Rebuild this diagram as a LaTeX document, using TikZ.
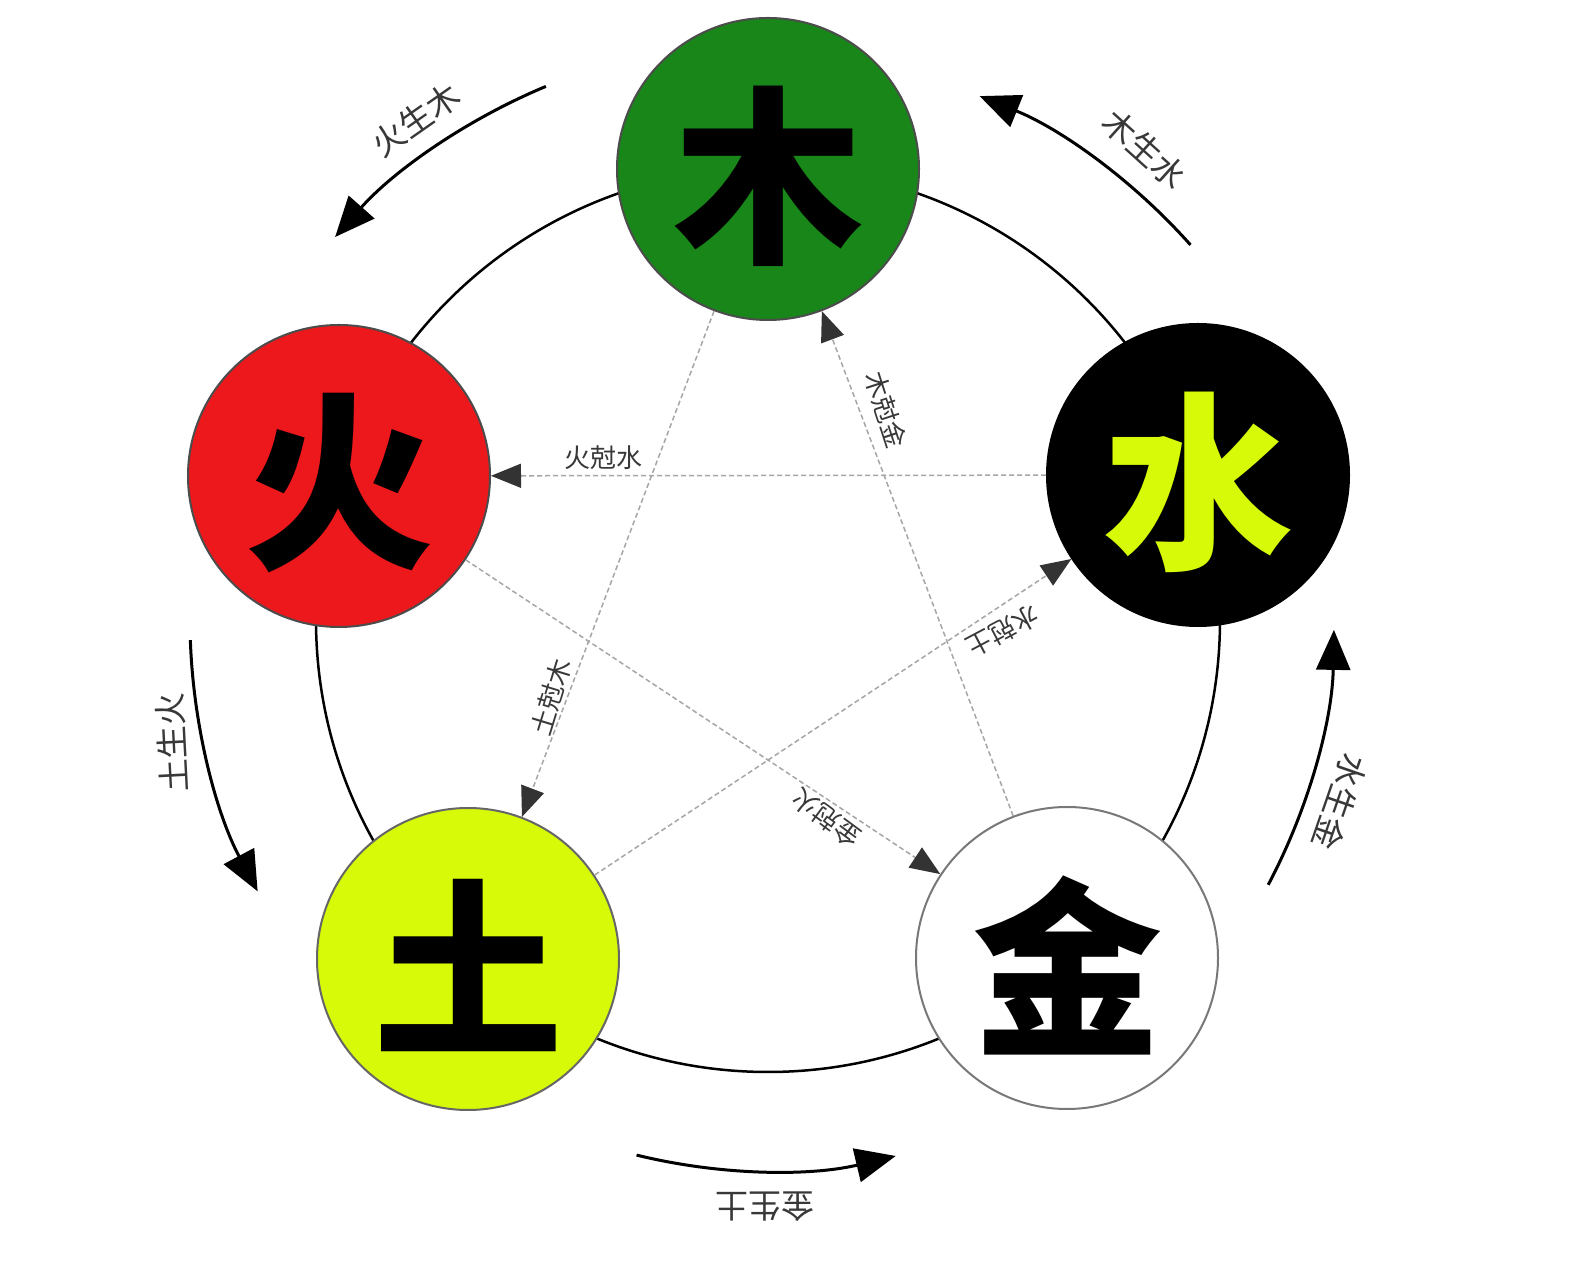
\documentclass[tikz,border=0pt]{standalone}
\usepackage{fontspec}
\newfontfamily\cjk{Noto Sans CJK SC}
\usetikzlibrary{arrows.meta,calc}
\definecolor{wood}{RGB}{24,134,24}
\definecolor{fire}{RGB}{236,24,28}
\definecolor{earth}{RGB}{214,250,8}
\definecolor{metalline}{RGB}{120,120,120}
\tikzset{
  elem/.style={circle, minimum size=302pt, inner sep=0pt, line width=2pt,
    font=\cjk\bfseries\fontsize{190}{190}\selectfont},
  elemtext/.style={font=\cjk\bfseries\fontsize{190}{190}\selectfont, inner sep=0pt},
  sheng/.style={line width=3pt, -{Triangle[length=40pt,width=34pt]}},
  ke/.style={line width=1.5pt, draw=black!35, dash pattern=on 5pt off 3pt,
    -{Triangle[length=30pt,width=24pt,color=black!80]}},
  olabel/.style={font=\cjk\fontsize{33}{33}\selectfont, text=black!78, inner sep=0pt},
  ilabel/.style={font=\cjk\fontsize{26}{26}\selectfont, text=black!78, inner sep=0pt}
}
\begin{document}
\begin{tikzpicture}[x=1pt,y=1pt]
\useasboundingbox (0,0) rectangle (1575,1280);
\fill[white] (0,0) rectangle (1575,1280);
\coordinate (C) at (768,660);
% big circle
\draw[line width=2.5pt] (C) circle[radius=452];
% elements
\node[elem, fill=wood, draw=black!70] (mu) at (768,1111) {};
\node[elem, fill=black, draw=black] (shui) at (1198,805) {};
\node[elem, fill=fire, draw=black!70] (huo) at (339,804) {};
\node[elem, fill=earth, draw=black!60] (tu) at (468,321) {};
\node[elem, fill=white, draw=metalline] (jin) at (1067,322) {};
\node[elemtext] (tmu) at ([yshift=-7pt]mu.center) {木};
\node[elemtext, text=earth] (tshui) at ([yshift=-7pt]shui.center) {水};
\node[elemtext] (thuo) at ([yshift=-7pt]huo.center) {火};
\node[elemtext] (ttu) at ([yshift=-7pt]tu.center) {土};
\node[elemtext] (tjin) at ([yshift=-7pt]jin.center) {金};
% ke (overcoming) lines
\draw[ke] (shui) -- (huo);
\draw[ke] (mu) -- (tu);
\draw[ke] (tu) -- (shui);
\draw[ke] (huo) -- (jin);
\draw[ke] (jin) -- (mu);
% ke labels
\node[ilabel] (k1) at (603,822) {火尅水};
\node[ilabel, rotate=-72] (k2) at (886,870) {木尅金};
\node[ilabel, rotate=208] (k3) at (1003,649) {水尅土};
\node[ilabel, rotate=73] (k4) at (551,583) {土尅木};
\node[ilabel, rotate=143.5] (k5) at (826,462) {金尅火};
% sheng (generating) arcs
\coordinate (s1) at ($(C)+(112.6:578)$);
\draw[sheng] (s1) arc[start angle=112.6, end angle=138.5, radius=578];
\coordinate (s2) at ($(C)+(41.6:565)$);
\draw[sheng] (s2) arc[start angle=41.6, end angle=68, radius=565];
\coordinate (s3) at ($(C)+(-27.9:566)$);
\draw[sheng] (s3) arc[start angle=-27.9, end angle=-1, radius=566];
\coordinate (s4) at ($(C)+(-103.8:551)$);
\draw[sheng] (s4) arc[start angle=-103.8, end angle=-76.6, radius=551];
\coordinate (s5) at ($(C)+(182:578)$);
\draw[sheng] (s5) arc[start angle=182, end angle=208, radius=578];
% sheng labels
\node[olabel, rotate=35] (g1) at (416,1160) {火生木};
\node[olabel, rotate=-42] (g2) at (1145,1131) {木生水};
\node[olabel, rotate=-109] (g3) at (1340,478) {水生金};
\node[olabel, rotate=180] (g4) at (765,73) {金生土};
\node[olabel, rotate=93] (g5) at (172,537) {土生火};
\end{tikzpicture}
\end{document}
